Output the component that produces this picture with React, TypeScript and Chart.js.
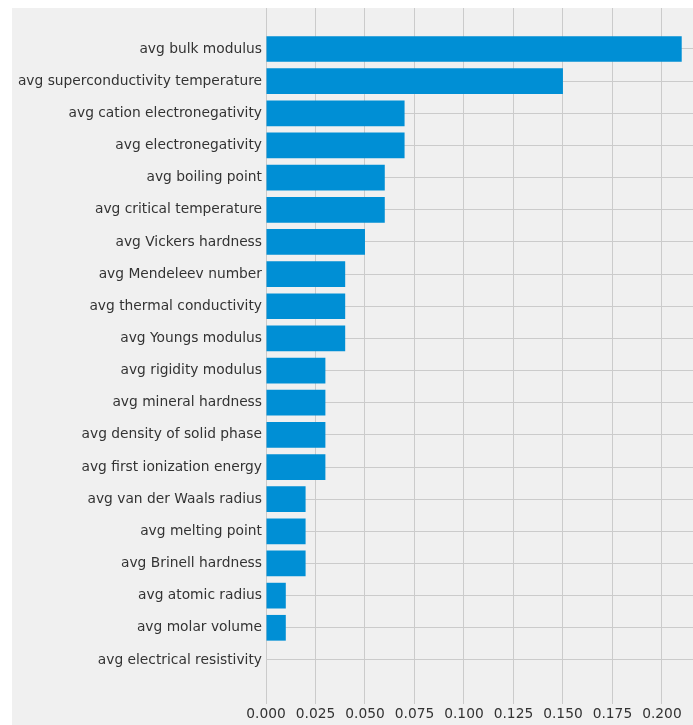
import React, { useEffect, useRef } from "react";
import { Chart, registerables } from "chart.js";

Chart.register(...registerables);

const categories = [
  "avg bulk modulus",
  "avg superconductivity temperature",
  "avg cation electronegativity",
  "avg electronegativity",
  "avg boiling point",
  "avg critical temperature",
  "avg Vickers hardness",
  "avg Mendeleev number",
  "avg thermal conductivity",
  "avg Youngs modulus",
  "avg rigidity modulus",
  "avg mineral hardness",
  "avg density of solid phase",
  "avg first ionization energy",
  "avg van der Waals radius",
  "avg melting point",
  "avg Brinell hardness",
  "avg atomic radius",
  "avg molar volume",
  "avg electrical resistivity",
];

const importances = [
  0.21, 0.15, 0.07, 0.07, 0.06, 0.06, 0.05, 0.04, 0.04, 0.04,
  0.03, 0.03, 0.03, 0.03, 0.02, 0.02, 0.02, 0.01, 0.01, 0.0,
];

const xTicks = [0, 0.025, 0.05, 0.075, 0.1, 0.125, 0.15, 0.175, 0.2];

export default function App() {
  const canvasRef = useRef<HTMLCanvasElement | null>(null);

  useEffect(() => {
    const canvas = canvasRef.current;
    if (!canvas) return;
    const font = { family: "'DejaVu Sans', sans-serif", size: 13.8 };
    const chart = new Chart(canvas, {
      type: "bar",
      data: {
        datasets: [
          {
            data: importances.map((v, i) => ({ x: v, y: i })),
            backgroundColor: "#008fd5",
            borderWidth: 0,
            categoryPercentage: 0.8,
            barPercentage: 1,
          },
        ],
      },
      options: {
        indexAxis: "y",
        animation: false,
        responsive: true,
        maintainAspectRatio: false,
        layout: { padding: 0 },
        plugins: { legend: { display: false }, tooltip: { enabled: false } },
        scales: {
          x: {
            type: "linear",
            min: 0,
            max: 0.2157,
            offset: false,
            afterBuildTicks: (axis: any) => {
              axis.ticks = xTicks.map((v) => ({ value: v }));
            },
            afterFit: (axis: any) => {
              axis.height = 21;
              axis.paddingLeft = 0;
              axis.paddingRight = 0;
            },
            grid: { color: "#cbcbcb", lineWidth: 1, drawTicks: false, offset: false },
            border: { display: false },
            ticks: {
              font,
              color: "#333333",
              padding: 2,
              maxRotation: 0,
              callback: (v: any) => Number(v).toFixed(3),
            },
          },
          y: {
            type: "linear",
            reverse: true,
            min: -1.275,
            max: 20.37,
            offset: false,
            afterBuildTicks: (axis: any) => {
              axis.ticks = categories.map((_, i) => ({ value: i }));
            },
            afterFit: (axis: any) => {
              axis.width = 254;
              axis.paddingTop = 0;
              axis.paddingBottom = 0;
            },
            grid: { color: "#cbcbcb", lineWidth: 1, drawTicks: false, offset: false },
            border: { display: false },
            ticks: {
              font,
              color: "#333333",
              padding: 4,
              autoSkip: false,
              callback: (v: any) => categories[v] ?? "",
            },
          },
        },
      },
    });
    return () => chart.destroy();
  }, []);

  return (
    <div
      style={{
        position: "fixed",
        left: 12,
        top: 8,
        width: 681,
        height: 717,
        background: "#f0f0f0",
      }}
    >
      <canvas ref={canvasRef} />
    </div>
  );
}
